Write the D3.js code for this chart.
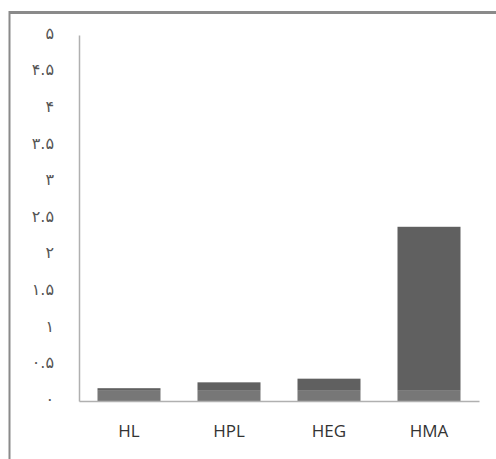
<!DOCTYPE html>
<html>
<head>
<meta charset="utf-8">
<script src="https://cdn.jsdelivr.net/npm/d3@7"></script>
<style>
  body { margin: 0; background: #fff; }
</style>
</head>
<body>
<div id="chart"></div>
<script>
const categories = ['HL', 'HPL', 'HEG', 'HMA'];
const lowerValues = [0.14, 0.14, 0.14, 0.14];
const upperValues = [0.035, 0.115, 0.165, 2.24];
const tickValues = [0, 0.5, 1, 1.5, 2, 2.5, 3, 3.5, 4, 4.5, 5];
const tickLabels = ['۰', '۰.۵', '۱', '۱.۵', '۲', '۲.۵', '۳', '۳.۵', '۴', '۴.۵', '۵'];
const seriesColors = ['#777777', '#606060'];

const width = 496, height = 459;
const margin = { top: 35, right: 17, bottom: 58, left: 79 };

const svg = d3.select('#chart').append('svg')
        .attr('width', width)
        .attr('height', height);

// frame (only top and left edges show in the picture)
svg.append('line')
        .attr('x1', 9).attr('x2', width).attr('y1', 12.5).attr('y2', 12.5)
        .attr('stroke', '#8a8a8a').attr('stroke-width', 3);
svg.append('line')
        .attr('x1', 9.5).attr('x2', 9.5).attr('y1', 11).attr('y2', height)
        .attr('stroke', '#8a8a8a').attr('stroke-width', 2);

const x = d3.scaleBand()
        .domain(categories)
        .range([margin.left, width - margin.right])
        .paddingInner(0.37)
        .paddingOuter(0.185);

const y = d3.scaleLinear()
        .domain([0, 5])
        .range([height - margin.bottom, margin.top]);

const stackData = categories.map((c, i) => ({ cat: c, lower: lowerValues[i], upper: upperValues[i] }));
const series = d3.stack().keys(['lower', 'upper'])(stackData);

svg.append('g')
        .selectAll('g')
        .data(series)
        .join('g')
        .attr('fill', (d, i) => seriesColors[i])
        .selectAll('rect')
        .data(d => d)
        .join('rect')
        .attr('x', d => x(d.data.cat))
        .attr('width', x.bandwidth())
        .attr('y', d => y(d[1]))
        .attr('height', d => y(d[0]) - y(d[1]));

// y axis
const yAxis = svg.append('g')
        .attr('transform', `translate(${margin.left},0)`)
        .call(d3.axisLeft(y).tickValues(tickValues).tickSize(0).tickPadding(25)
                .tickFormat((d, i) => tickLabels[i]));
yAxis.select('.domain').attr('stroke', '#b0b0b0').attr('stroke-width', 1.5);
yAxis.selectAll('text')
        .attr('font-family', 'DejaVu Sans, sans-serif')
        .attr('font-size', 16)
        .attr('letter-spacing', 1.5)
        .attr('dy', '0.2em')
        .attr('fill', '#555');

// x axis
const xAxis = svg.append('g')
        .attr('transform', `translate(0,${height - margin.bottom})`)
        .call(d3.axisBottom(x).tickSize(0).tickPadding(24));
xAxis.select('.domain').attr('stroke', '#b0b0b0').attr('stroke-width', 1.5);
xAxis.selectAll('text')
        .attr('font-family', 'Open Sans, sans-serif')
        .attr('font-size', 17)
        .attr('fill', '#333');
</script>
</body>
</html>
